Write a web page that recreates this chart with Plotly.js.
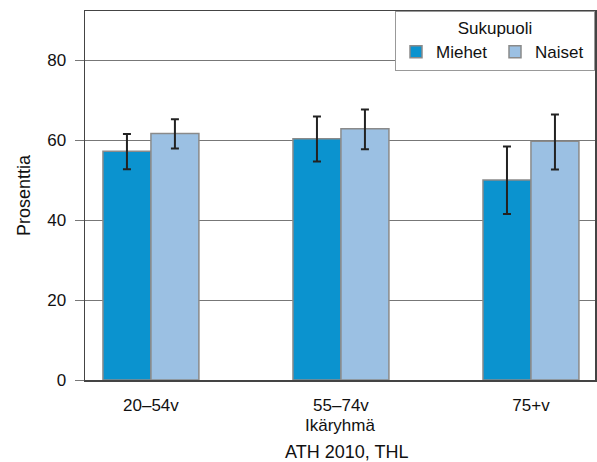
<!DOCTYPE html>
<html>
<head>
<meta charset="utf-8">
<script src="https://cdn.plot.ly/plotly-3.0.1.min.js"></script>
<style>html,body{margin:0;padding:0;background:#fff;}</style>
</head>
<body>
<div id="chart" style="width:597px;height:462px;"></div>
<script>
var categories = ["20–54v", "55–74v", "75+v"];
var miehet = [57.2, 60.3, 50.0];
var miehetUpper = [61.5, 65.9, 58.4];
var miehetLower = [52.7, 54.6, 41.5];
var naiset = [61.6, 62.8, 59.7];
var naisetUpper = [65.2, 67.6, 66.4];
var naisetLower = [57.9, 57.7, 52.6];

function plus(up, v) { return up.map(function (u, i) { return u - v[i]; }); }
function minus(lo, v) { return lo.map(function (l, i) { return v[i] - l; }); }

var errStyle = { color: "#222", thickness: 2, width: 4 };

var traces = [
  {
    type: "bar", name: "Miehet", x: categories, y: miehet,
    marker: { color: "#0b93cf", line: { color: "#8a8a8a", width: 1.5 } },
    error_y: Object.assign({ type: "data", symmetric: false, array: plus(miehetUpper, miehet), arrayminus: minus(miehetLower, miehet) }, errStyle)
  },
  {
    type: "bar", name: "Naiset", x: categories, y: naiset,
    marker: { color: "#9bc0e3", line: { color: "#8a8a8a", width: 1.5 } },
    error_y: Object.assign({ type: "data", symmetric: false, array: plus(naisetUpper, naiset), arrayminus: minus(naisetLower, naiset) }, errStyle)
  }
];

var font = { family: "Liberation Sans, Arial, sans-serif", size: 17, color: "#111" };

var layout = {
  width: 597, height: 462,
  margin: { l: 85, r: 2, t: 11, b: 82 },
  paper_bgcolor: "#fff", plot_bgcolor: "#fff",
  font: font,
  barmode: "group", bargap: 0.495, bargroupgap: 0,
  showlegend: true,
  legend: {
    orientation: "h", x: 1, xanchor: "right", y: 1, yanchor: "top",
    bgcolor: "#fff", bordercolor: "#999", borderwidth: 1,
    title: { text: "Sukupuoli", side: "top center", font: { size: 17 } },
    font: { size: 17 }, traceorder: "normal",
    entrywidth: 54, entrywidthmode: "pixels"
  },
  xaxis: {
    range: [-0.347, 2.337], showgrid: false, ticks: "",
    showline: true, linecolor: "#444", linewidth: 1.5, mirror: true,
    tickfont: { size: 17 }, ticklabelstandoff: 9,
    title: { text: "Ikäryhmä", standoff: 5, font: { size: 17 } }
  },
  yaxis: {
    range: [0, 92.25], tickvals: [0, 20, 40, 60, 80],
    showgrid: true, gridcolor: "#777", gridwidth: 1,
    ticks: "outside", ticklen: 9, tickcolor: "#777", tickwidth: 1,
    showline: true, linecolor: "#444", linewidth: 1.5, mirror: true,
    zeroline: false, tickfont: { size: 17 }, ticklabelstandoff: 5,
    title: { text: "Prosenttia", standoff: 12, font: { size: 18 } }
  },
  annotations: [
    { text: "ATH 2010, THL", xref: "paper", yref: "paper", x: 0.512, y: -0.195, xanchor: "center", yanchor: "middle", showarrow: false, font: { size: 18 } }
  ]
};

Plotly.newPlot("chart", traces, layout, { displayModeBar: false, staticPlot: true });
</script>
</body>
</html>
